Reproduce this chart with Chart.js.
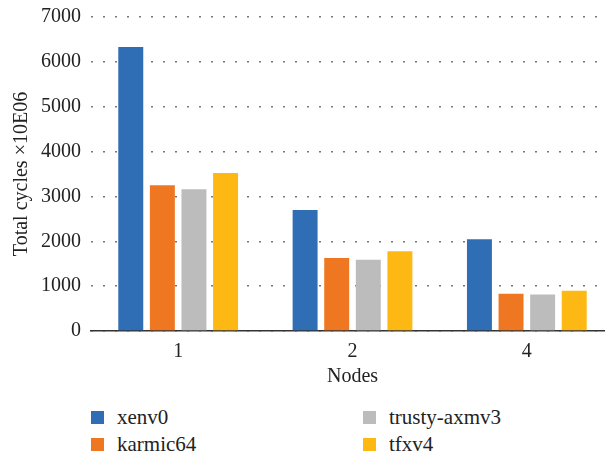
<!DOCTYPE html>
<html>
<head>
<meta charset="utf-8">
<script src="https://cdn.jsdelivr.net/npm/chart.js@4"></script>
<style>
    html, body { margin: 0; padding: 0; background: #fff; overflow: hidden; }
    #page { position: relative; width: 605px; height: 455px; overflow: hidden; }
    #wrap { position: absolute; left: 0; top: 0; width: 614px; height: 400px; }
    .legend-item { position: absolute; height: 26px; display: flex; align-items: center;
        font-family: 'Liberation Serif', 'DejaVu Serif', serif; font-size: 21px; color: #222; }
    .legend-box { width: 13px; height: 13px; margin-right: 13px; }
</style>
</head>
<body>
<div id="page">
    <div id="wrap"><canvas id="cyclesChart"></canvas></div>
    <div id="legend"></div>
</div>
<script>
// Total cycles per node count
const nodes = ['1', '2', '4'];
const seriesNames = ['xenv0', 'karmic64', 'trusty-axmv3', 'tfxv4'];
const xenv0 = [6330, 2700, 2045];
const karmic64 = [3250, 1630, 830];
const trustyAxmv3 = [3160, 1590, 815];
const tfxv4 = [3520, 1780, 900];
const colors = ['#2f6eb5', '#ef7722', '#bcbcbc', '#fdb813'];
const yTicks = [0, 1000, 2000, 3000, 4000, 5000, 6000, 7000];

const serif = "'Liberation Serif', serif";

const seriesValues = [xenv0, karmic64, trustyAxmv3, tfxv4];

const ctx = document.getElementById('cyclesChart').getContext('2d');
const cyclesChart = new Chart(ctx, {
    type: 'bar',
    data: {
        labels: nodes,
        datasets: seriesNames.map((name, i) => ({
            label: name,
            data: seriesValues[i],
            backgroundColor: colors[i],
            borderWidth: 0,
            categoryPercentage: 0.725,
            barPercentage: 0.79
        }))
    },
    options: {
        responsive: true,
        maintainAspectRatio: false,
        animation: false,
        layout: { padding: 0 },
        plugins: {
            legend: { display: false },
            tooltip: { enabled: false }
        },
        scales: {
            x: {
                grid: { display: false },
                border: { display: true, color: '#333', width: 1.5 },
                ticks: { color: '#222', padding: 1, font: { size: 20, family: serif } },
                title: {
                    display: true,
                    text: 'Nodes',
                    color: '#222',
                    padding: { top: 0, bottom: 11 },
                    font: { size: 20, family: serif }
                },
                afterFit: (scale) => { scale.height = 69; }
            },
            y: {
                min: 0,
                max: 7000,
                afterBuildTicks: (scale) => { scale.ticks = yTicks.map(v => ({ value: v })); },
                grid: { color: '#777', lineWidth: 1.5, drawTicks: false },
                border: { display: false, dash: [2, 10] },
                ticks: {
                    color: '#222',
                    padding: 10,
                    font: { size: 20, family: serif },
                    callback: (value) => String(value)
                },
                title: {
                    display: true,
                    text: 'Total cycles ×10E06',
                    color: '#222',
                    padding: { top: 10, bottom: 0 },
                    font: { size: 20, family: serif }
                },
                afterFit: (scale) => {
                    scale.width = 91;
                    scale.paddingTop = 17;
                }
            }
        }
    }
});

// legend in two columns, like the original figure
const legendSpots = [[91, 404], [91, 431], [363, 404], [363, 431]];
document.getElementById('legend').innerHTML = seriesNames.map((name, i) => `
    <div class="legend-item" style="left:${legendSpots[i][0]}px; top:${legendSpots[i][1]}px">
        <div class="legend-box" style="background:${colors[i]}"></div>${name}
    </div>
`).join('');
</script>
</body>
</html>
